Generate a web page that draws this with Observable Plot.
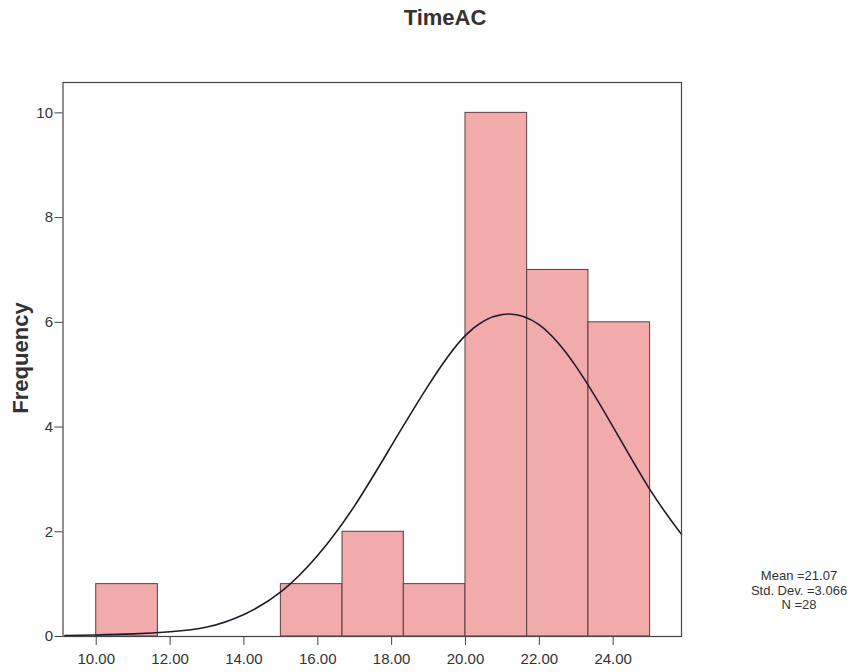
<!DOCTYPE html>
<html>
<head>
<meta charset="utf-8">
<script src="https://cdn.jsdelivr.net/npm/d3@7"></script>
<script src="https://cdn.jsdelivr.net/npm/@observablehq/plot@0.6"></script>
<style>
  html, body { margin: 0; padding: 0; background: #fff; }
  #wrap { position: relative; width: 860px; height: 672px; font-family: "Liberation Sans", Arial, sans-serif; color: #333; }
  #title { position: absolute; left: 445px; top: 18px; transform: translate(-50%, -50%); font-size: 22px; font-weight: bold; color: #333; white-space: nowrap; }
  #ylab { position: absolute; left: 21px; top: 358px; transform: translate(-50%, -50%) rotate(-90deg); font-size: 22px; font-weight: bold; color: #333; white-space: nowrap; }
  #stats { position: absolute; left: 799px; top: 591px; transform: translate(-50%, -50%); font-size: 13px; line-height: 14.5px; text-align: center; color: #333; white-space: nowrap; }
  #chart { position: absolute; left: 0; top: 0; }
</style>
</head>
<body>
<div id="wrap">
  <div id="chart"></div>
  <div id="title"></div>
  <div id="ylab"></div>
  <div id="stats"></div>
</div>
<script>
// ---- data ----
const chartTitle = "TimeAC";
const yLabel = "Frequency";
const binStart = [10.00, 15.00, 16.67, 18.33, 20.00, 21.67, 23.33];
const binEnd   = [11.67, 16.67, 18.33, 20.00, 21.67, 23.33, 25.00];
const counts   = [1, 1, 2, 1, 10, 7, 6];
// fitted normal curve
const curveX = [9.15, 10, 11, 12, 13, 14, 15, 16, 17, 18, 19, 20, 21, 22, 23, 24, 25, 25.85];
const curveY = [0.02, 0.03, 0.05, 0.09, 0.18, 0.42, 0.85, 1.55, 2.5, 3.65, 4.8, 5.75, 6.15, 5.95, 5.15, 4.0, 2.8, 1.95];
const xTicks = [10, 12, 14, 16, 18, 20, 22, 24];
const yTicks = [0, 2, 4, 6, 8, 10];
const statMean = "21.07";
const statSD = "3.066";
const statN = 28;

const bins = binStart.map((s, i) => ({x1: s, x2: binEnd[i], y: counts[i]}));
const curve = curveX.map((x, i) => ({x, y: curveY[i]}));

const plot = Plot.plot({
  width: 860,
  height: 672,
  marginLeft: 62.5,
  marginRight: 179,
  marginTop: 82,
  marginBottom: 36,
  style: {fontFamily: "'Liberation Sans', Arial, sans-serif", fontSize: "15px", color: "#333", background: "transparent"},
  x: {domain: [9.1, 25.85]},
  y: {domain: [0, 10.58]},
  marks: [
    Plot.rectY(bins, {x1: "x1", x2: "x2", y: "y", fill: "#f2abab", stroke: "#5e3b3b", strokeWidth: 1, insetLeft: 0, insetRight: 0}),
    Plot.line(curve, {x: "x", y: "y", stroke: "#1e1b2b", strokeWidth: 1.6, curve: "natural"}),
    Plot.frame({stroke: "#444", strokeWidth: 1.2}),
    Plot.axisX({ticks: xTicks, tickFormat: d => d.toFixed(2), tickSize: 9, tickPadding: 8, label: null, stroke: "#444"}),
    Plot.axisY({ticks: yTicks, tickFormat: d => String(d), tickSize: 8, tickPadding: 2, label: null, stroke: "#444"})
  ]
});
document.getElementById("chart").appendChild(plot);
document.getElementById("title").textContent = chartTitle;
document.getElementById("ylab").textContent = yLabel;
document.getElementById("stats").innerHTML =
  "Mean =" + statMean + "<br>Std. Dev. =" + statSD + "<br>N =" + statN;
</script>
</body>
</html>
